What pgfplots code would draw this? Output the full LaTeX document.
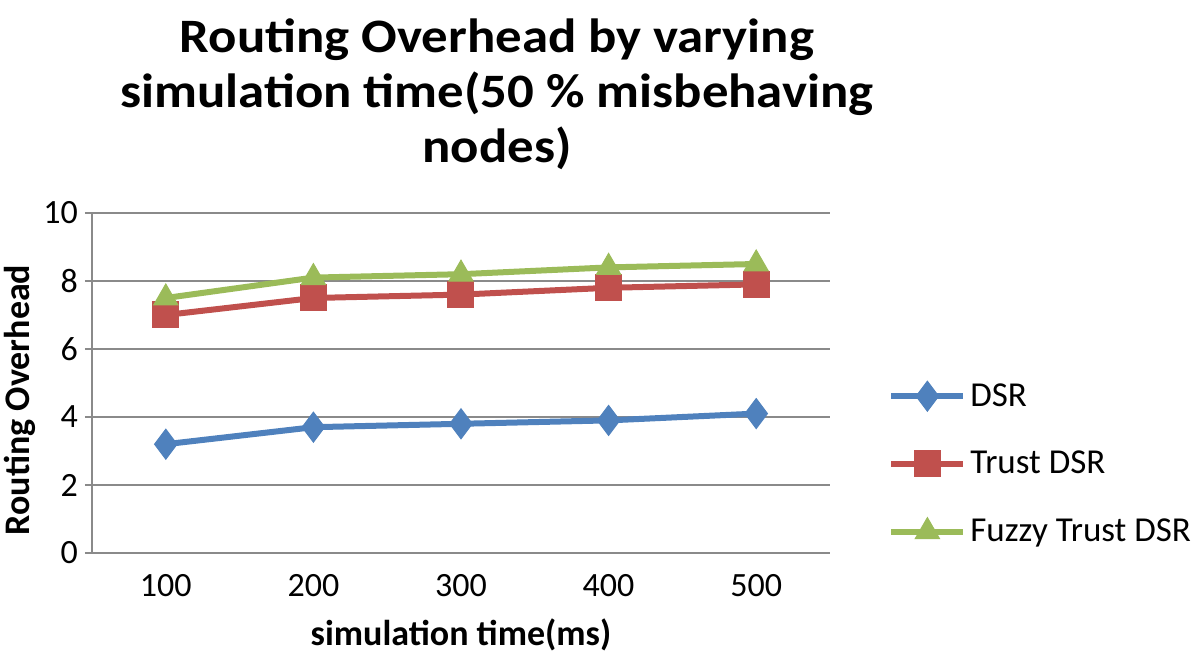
\documentclass[border=0pt]{standalone}
\usepackage{pgfplots}
\pgfplotsset{compat=1.18}
\usepackage{fontspec}
\setmainfont{Carlito}
\newfontfamily\titlefont[FakeStretch=1.1]{Carlito}
\definecolor{cdsr}{HTML}{4F81BD}
\definecolor{ctrust}{HTML}{C0504D}
\definecolor{cfuzzy}{HTML}{9BBB59}
\definecolor{cgrid}{HTML}{8A8A8A}
\begin{document}
\begin{tikzpicture}
\useasboundingbox (0,0) rectangle (600pt,329pt);
\begin{axis}[
  at={(46pt,52.5pt)}, anchor=origin,
  scale only axis, width=369pt, height=170pt,
  xmin=0.5, xmax=5.5, ymin=0, ymax=10,
  xtick={1,2,3,4,5}, xticklabels={100,200,300,400,500},
  ytick={0,2,4,6,8,10},
  ymajorgrids, grid style={cgrid, line width=0.8pt},
  axis x line*=bottom, axis y line*=left,
  axis line style={cgrid, line width=0.8pt, -},
  tick style={cgrid, line width=0.8pt},
  xtick style={draw=none},
  major tick length=3.5pt,
  tick align=outside,
  ticklabel style={font=\fontsize{17}{20}\selectfont},
  xticklabel style={yshift=-3.5pt},
  /pgf/number format/assume math mode=true,
  xlabel={\bfseries simulation time(ms)},
  ylabel={\bfseries Routing Overhead},
  label style={font=\fontsize{18}{20}\selectfont},
  xlabel style={yshift=-4.5pt},
  ylabel style={xshift=-8.5pt, yshift=-3pt},
  legend style={draw=none, inner sep=0pt, at={(1.0786,0.262)}, anchor=west,
    font=\fontsize{17.5}{20}\selectfont, row sep=17pt, cells={anchor=west},
    nodes={inner xsep=2pt}},
  legend image code/.code={
    \draw[#1, mark repeat=2, mark phase=2] plot coordinates {(0pt,0pt) (18pt,0pt) (36pt,0pt)};},
  clip=false,
]
\addplot[cdsr, line width=3pt, mark=diamond*, mark size=7.5pt, mark options={solid, fill=cdsr, draw=cdsr, line width=0.5pt}]
  coordinates {(1,3.2) (2,3.7) (3,3.8) (4,3.9) (5,4.1)};
\addlegendentry{DSR}
\addplot[ctrust, line width=3pt, mark=square*, mark size=6.5pt, mark options={solid, fill=ctrust, draw=ctrust, line width=0.5pt}]
  coordinates {(1,7.0) (2,7.5) (3,7.6) (4,7.8) (5,7.9)};
\addlegendentry{Trust DSR}
\addplot[cfuzzy, line width=3pt, mark=triangle*, mark size=7pt, mark options={solid, fill=cfuzzy, draw=cfuzzy, line width=0.5pt}]
  coordinates {(1,7.5) (2,8.1) (3,8.2) (4,8.4) (5,8.5)};
\addlegendentry{Fuzzy Trust DSR}
\end{axis}
\node[align=center, font=\fontsize{24}{27.5}\selectfont\titlefont\bfseries] at (248.5pt,282pt)
  {Routing Overhead by varying\\simulation time(50 \% misbehaving\\nodes)};
\end{tikzpicture}
\end{document}
